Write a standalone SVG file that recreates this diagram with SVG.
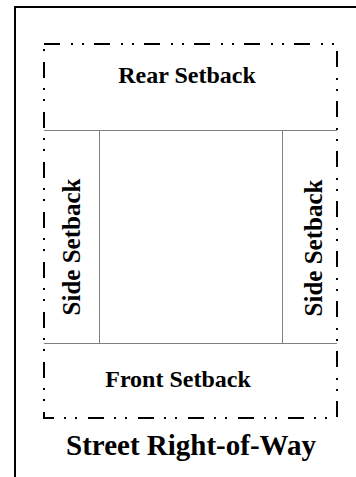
<svg xmlns="http://www.w3.org/2000/svg" width="356" height="477" viewBox="0 0 356 477">
<style>
.lbl{font-family:"Liberation Serif","Times New Roman",serif;font-weight:bold;fill:#000;text-anchor:middle}
.sb{font-size:24px}
.sd{font-size:25px}
.st{font-size:29px}
.grid{stroke:#808080;stroke-width:1;fill:none}
.lot{fill:none;stroke:#000;stroke-width:2;stroke-dasharray:16 11 2 9 2 10}
</style>
<rect width="356" height="477" fill="#fff"/>
<g id="frame">
<rect x="15" y="7" width="400" height="500" fill="none" stroke="#000" stroke-width="2"/>
</g>
<g id="connectors">
<line class="grid" x1="44" y1="130.5" x2="337" y2="130.5"/>
<line class="grid" x1="44" y1="343.5" x2="337" y2="343.5"/>
<line class="grid" x1="99.5" y1="130.5" x2="99.5" y2="343.5"/>
<line class="grid" x1="282.5" y1="130.5" x2="282.5" y2="343.5"/>
</g>
<g id="lot-line">
<rect class="lot" x="44" y="44" width="293" height="374"/>
</g>
<g id="rear-setback">
<text class="lbl sb" x="187" y="83">Rear Setback</text>
</g>
<g id="left-side-setback">
<text class="lbl sd" transform="translate(80,247) rotate(-90)">Side Setback</text>
</g>
<g id="right-side-setback">
<text class="lbl sd" transform="translate(322,248) rotate(-90)">Side Setback</text>
</g>
<g id="front-setback">
<text class="lbl sb" x="178" y="387">Front Setback</text>
</g>
<g id="street">
<text class="lbl st" x="191" y="455">Street Right-of-Way</text>
</g>
</svg>
